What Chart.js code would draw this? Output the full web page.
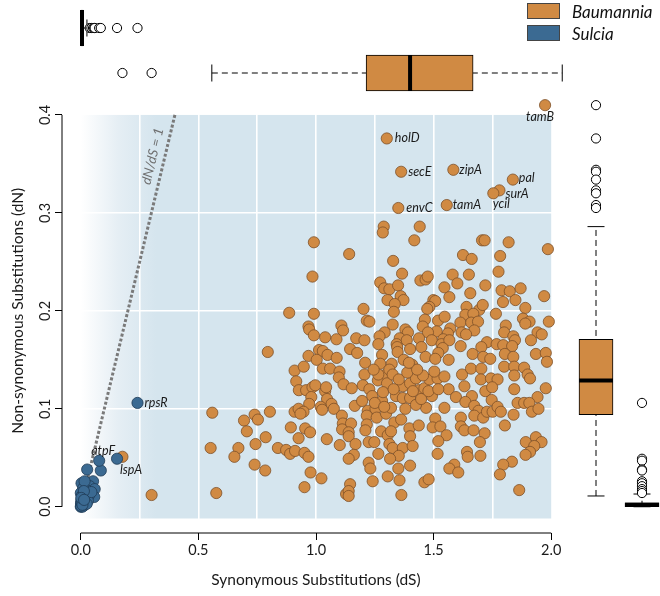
<!DOCTYPE html>
<html>
<head>
<meta charset="utf-8">
<script src="https://cdn.jsdelivr.net/npm/chart.js@4.4.1/dist/chart.umd.min.js"></script>
<style>
  html, body { margin: 0; padding: 0; background: #fff; overflow: hidden; }
  #wrap { position: relative; width: 660px; height: 596px; font-family: Lato, sans-serif; }
  #wrap canvas { position: absolute; left: 0; top: 0; }
  #legend { position: absolute; left: 527px; top: 0; }
  .item { display: flex; align-items: center; height: 22px; }
  .swatch { width: 31px; height: 14px; border: 1px solid #444; margin-right: 12px; }
  .item span { font-style: italic; font-size: 17px; color: #111; }
</style>
</head>
<body>
<div id="wrap">
  <canvas id="main" width="660" height="596"></canvas>
  <canvas id="topBox" width="660" height="596"></canvas>
  <canvas id="rightBox" width="660" height="596"></canvas>
  <div id="legend"></div>
</div>
<script>
// axis ranges, R style (4% padding round the data range)
var dsRange = [-0.08, 2.08];
var dnRange = [-0.0268, 0.4268];
var dsTicks = [0, 0.5, 1, 1.5, 2];
var dnTicks = [0, 0.1, 0.2, 0.3, 0.4];
var dsGrid = [0.25, 0.5, 0.75, 1, 1.25, 1.5, 1.75];
var dnGrid = [0.1, 0.2, 0.3];
var panelBottom = -0.012;
var neutralLine = [0, 0.4];
var neutralLabelAt = 0.355;

var groups = ['Baumannia', 'Sulcia'];

// [dS, dN] per gene
var baumanniaPoints = [
  [0.991,0.270],[1.141,0.258],[0.985,0.235],[0.886,0.198],[0.991,0.197],[0.968,0.184],[0.971,0.181],[0.991,0.175],
  [1.108,0.185],[1.115,0.180],[1.039,0.173],[1.087,0.171],[1.171,0.172],[0.795,0.158],[1.013,0.160],[1.029,0.159],
  [1.049,0.155],[1.088,0.152],[1.145,0.161],[0.968,0.154],[1.003,0.150],[1.175,0.157],
  [0.909,0.139],[0.948,0.143],[0.916,0.128],[0.927,0.119],[0.958,0.119],[0.985,0.122],[0.997,0.124],[0.980,0.112],
  [0.971,0.105],[0.909,0.097],[0.926,0.100],[0.947,0.097],[0.934,0.095],[1.029,0.141],[1.060,0.141],[1.100,0.138],
  [1.097,0.132],[1.117,0.125],[1.152,0.121],[1.039,0.118],[1.043,0.122],[1.047,0.110],[1.066,0.105],[1.020,0.102],
  [1.026,0.099],[1.076,0.100],[1.165,0.103],[1.110,0.093],[1.114,0.085],[1.149,0.085],[1.111,0.079],[1.139,0.076],
  [1.139,0.072],[1.168,0.064],[1.101,0.063],[1.046,0.069],[1.161,0.053],[1.139,0.049],[0.559,0.096],[0.694,0.088],
  [0.739,0.094],[0.753,0.089],[0.804,0.097],[0.706,0.077],[0.786,0.071],[0.743,0.064],[0.670,0.060],[0.653,0.051],
  [0.552,0.060],[0.893,0.081],[0.926,0.070],[0.954,0.080],[0.975,0.076],[0.838,0.060],[0.873,0.058],[0.890,0.054],
  [0.911,0.057],[0.951,0.055],[0.968,0.051],[0.739,0.043],[0.784,0.037],[0.977,0.035],[1.023,0.029],[0.951,0.020],
  [1.145,0.023],[1.128,0.013],[1.139,0.016],[1.139,0.011],[0.576,0.014],[0.177,0.051],[0.301,0.012],
  [1.288,0.286],[1.284,0.280],[1.441,0.286],[1.418,0.272],[1.706,0.272],[1.717,0.272],[1.819,0.270],[1.986,0.263],
  [1.328,0.251],[1.625,0.257],[1.662,0.253],[1.783,0.256],[1.366,0.238],[1.776,0.240],[1.581,0.237],[1.650,0.237],
  [1.601,0.228],[1.444,0.231],[1.466,0.232],[1.475,0.235],[1.273,0.229],[1.290,0.223],[1.312,0.222],[1.349,0.226],
  [1.546,0.224],[1.720,0.226],[1.789,0.221],[1.824,0.220],[1.870,0.223],[1.656,0.218],[1.970,0.215],[1.360,0.215],
  [1.372,0.211],[1.304,0.211],[1.335,0.207],[1.567,0.214],[1.499,0.211],[1.507,0.210],[1.795,0.209],[1.848,0.211],
  [1.202,0.202],[1.331,0.199],[1.482,0.204],[1.473,0.202],[1.640,0.204],[1.694,0.201],[1.709,0.206],[1.890,0.203],
  [1.635,0.196],[1.669,0.197],[1.765,0.197],[1.880,0.192],[1.908,0.189],[1.990,0.189],[1.216,0.190],[1.227,0.189],
  [1.463,0.191],[1.519,0.190],[1.547,0.194],[1.614,0.188],[1.660,0.188],[1.689,0.189],[1.326,0.186],[1.454,0.184],
  [1.571,0.182],[1.807,0.185],[1.890,0.187],[1.380,0.181],[1.292,0.178],[1.391,0.178],[1.513,0.179],[1.476,0.178],
  [1.619,0.178],[1.673,0.180],[1.800,0.178],[1.942,0.178],[1.960,0.176],[1.561,0.177],[1.638,0.176],[1.270,0.174],
  [1.356,0.172],[1.438,0.172],[1.541,0.171],[1.839,0.174],[1.846,0.170],[1.914,0.170],[1.206,0.170],[1.265,0.166],
  [1.343,0.166],[1.386,0.170],[1.492,0.170],[1.534,0.166],[1.567,0.170],[1.727,0.168],[1.768,0.166],[1.796,0.165],
  [1.834,0.164],[1.345,0.163],[1.400,0.161],[1.448,0.163],[1.539,0.162],[1.615,0.164],[1.703,0.163],[1.347,0.158],
  [1.466,0.153],[1.520,0.157],[1.564,0.150],[1.666,0.156],[1.711,0.153],[1.803,0.156],[1.839,0.153],[1.935,0.156],
  [1.977,0.157],[1.982,0.148],[1.281,0.155],[1.373,0.150],[1.409,0.145],[1.273,0.146],[1.322,0.146],[1.209,0.147],
  [1.507,0.151],[1.741,0.151],
  [1.206,0.135],[1.199,0.124],[1.227,0.120],[1.239,0.113],[1.263,0.129],[1.281,0.108],[1.298,0.135],[1.312,0.140],
  [1.302,0.126],[1.340,0.113],[1.369,0.123],[1.400,0.126],[1.425,0.131],[1.369,0.111],[1.400,0.111],[1.437,0.119],
  [1.461,0.121],[1.482,0.130],[1.517,0.131],[1.546,0.133],[1.493,0.113],[1.468,0.101],[1.425,0.104],[1.503,0.138],
  [1.621,0.135],[1.659,0.141],[1.703,0.141],[1.631,0.123],[1.564,0.120],[1.595,0.112],[1.663,0.113],[1.701,0.130],
  [1.744,0.131],[1.772,0.130],[1.720,0.118],[1.749,0.122],[1.747,0.109],[1.635,0.107],[1.673,0.103],[1.546,0.101],
  [1.691,0.098],[1.673,0.093],[1.711,0.091],[1.727,0.097],[1.751,0.097],[1.772,0.102],[1.786,0.097],[1.840,0.094],
  [1.800,0.143],[1.843,0.143],[1.885,0.142],[1.900,0.135],[1.910,0.131],[1.843,0.134],[1.843,0.120],[1.977,0.121],
  [1.942,0.112],[1.857,0.106],[1.885,0.106],[1.907,0.106],[1.918,0.097],[1.946,0.100],[1.616,0.091],[1.616,0.082],
  [1.631,0.078],[1.670,0.078],[1.507,0.090],[1.496,0.081],[1.529,0.082],[1.555,0.073],[1.520,0.067],[1.517,0.054],
  [1.717,0.075],[1.697,0.066],[1.699,0.052],[1.642,0.056],[1.645,0.051],[1.588,0.043],[1.567,0.039],[1.605,0.035],
  [1.803,0.083],[1.892,0.066],[1.935,0.071],[1.959,0.066],[1.928,0.062],[1.910,0.056],[1.891,0.053],[1.833,0.046],
  [1.796,0.043],[1.782,0.033],[1.864,0.017],[1.220,0.098],[1.216,0.093],[1.216,0.084],[1.210,0.078],[1.253,0.100],
  [1.258,0.091],[1.298,0.095],[1.319,0.101],[1.333,0.086],[1.362,0.089],[1.397,0.080],[1.400,0.072],[1.437,0.083],
  [1.277,0.077],[1.305,0.073],[1.319,0.077],[1.224,0.066],[1.248,0.066],[1.312,0.064],[1.326,0.060],[1.369,0.060],
  [1.411,0.062],[1.352,0.052],[1.265,0.054],[1.315,0.049],[1.224,0.045],[1.231,0.039],[1.350,0.039],[1.400,0.042],
  [1.305,0.031],[1.355,0.027],[1.241,0.026],[1.461,0.025],[1.479,0.028],[1.363,0.012],[1.196,0.108],[1.265,0.135],
  [1.326,0.135],[1.245,0.140],[1.285,0.117],[1.352,0.130],[1.388,0.137],[1.412,0.118],[1.447,0.110],[1.455,0.134],
  [1.380,0.100],[1.330,0.120],[1.250,0.106],[1.290,0.102],[1.478,0.118],[1.430,0.140],[1.520,0.120],[1.395,0.147]
];
var baumanniaGenes = [
  ['tamB',1.974,0.410],['holD',1.301,0.376],['secE',1.362,0.342],['zipA',1.584,0.344],['pal',1.837,0.334],
  ['surA',1.780,0.323],['ycil',1.754,0.320],['envC',1.350,0.305],['tamA',1.556,0.308]
];
var sulciaPoints = [
  [0.085,0.037],[0.027,0.038],[0.052,0.026],[0.038,0.021],[0.059,0.018],[0.057,0.010],[0.024,0.017],[0.003,0.024],
  [0.010,0.019],[0.035,0.012],[0.000,0.014],[0.010,0.009],[0.017,0.004],[0.000,0.000],[0.005,0.002],[0.008,0.006],
  [0.012,0.001],[0.002,0.005],[0.020,0.008],[0.004,0.011],[0.015,0.013],[0.030,0.006],[0.001,0.003],[0.006,0.000],
  [0.009,0.003],[0.025,0.003],[0.003,0.007],[0.045,0.015],[0.016,0.026],[0.013,0.016],[0.001,0.001],[0.004,0.004],
  [0.007,0.002],[0.002,0.009],[0.014,0.007]
];
var sulciaGenes = [['rpsR',0.241,0.106],['lspA',0.154,0.049],['atpF',0.078,0.047]];

// marginal boxplots: [low whisker, Q1, median, Q3, high whisker]
var baumanniaDsBox = [0.557, 1.213, 1.400, 1.668, 2.047];
var sulciaDsBox = [0.000, 0.002, 0.005, 0.010, 0.026];
var baumanniaDsOut = [0.177, 0.301];
var sulciaDsOut = [0.038, 0.045, 0.052, 0.057, 0.059, 0.078, 0.085, 0.154, 0.241];
var baumanniaDnBox = [0.011, 0.094, 0.129, 0.171, 0.286];
var sulciaDnBox = [0.000, 0.000, 0.002, 0.004, 0.013];
var baumanniaDnOut = [0.410, 0.376, 0.344, 0.342, 0.334, 0.323, 0.320, 0.308, 0.305];
var sulciaDnOut = [0.106, 0.049, 0.047, 0.038, 0.037, 0.026, 0.024, 0.021, 0.018, 0.016, 0.014];

var colors = { Baumannia: '#d08a43', Sulcia: '#3b6a92' };
var borders = { Baumannia: '#7d5128', Sulcia: '#1f3b55' };

// where each gene name sits next to its point: [dx, dy, align]
var labelOffsets = {
  tamB: [-5, 12, 'center'], holD: [8, 0, 'left'], secE: [7, 0, 'left'], zipA: [6, 0, 'left'],
  pal: [6, -2, 'left'], surA: [6, 4, 'left'], ycil: [8, 11, 'center'], envC: [8, 0, 'left'],
  tamA: [6, 0, 'left'], rpsR: [7, 0, 'left'], lspA: [3, 11, 'left'], atpF: [4, -10, 'center']
};

Chart.defaults.font.family = 'Lato';
Chart.defaults.color = '#1a1a1a';

function toXY (p) {
    return { x: p[0], y: p[1] };
}

var plotBackground = {
    id: 'plotBackground',
    beforeDraw: function (chart) {
        var ctx = chart.ctx, x = chart.scales.x, y = chart.scales.y;
        var left = x.getPixelForValue(dsTicks[0]);
        var right = x.getPixelForValue(dsTicks[dsTicks.length - 1]);
        var top = y.getPixelForValue(dnTicks[dnTicks.length - 1]);
        var bottom = y.getPixelForValue(panelBottom);
        var g = ctx.createLinearGradient(left, 0, x.getPixelForValue(0.32), 0);
        g.addColorStop(0, '#ffffff');
        g.addColorStop(0.5, '#e5eef4');
        g.addColorStop(1, '#d5e5ee');
        ctx.save();
        ctx.fillStyle = g;
        ctx.fillRect(left, top, right - left, bottom - top);
        ctx.restore();
    }
};

var textLabels = {
    id: 'textLabels',
    afterDatasetsDraw: function (chart) {
        var ctx = chart.ctx, x = chart.scales.x, y = chart.scales.y;
        ctx.save();
        ctx.font = 'italic 12.5px Lato';
        ctx.fillStyle = '#1a1a1a';
        ctx.textBaseline = 'middle';
        baumanniaGenes.concat(sulciaGenes).forEach(function (g) {
            var off = labelOffsets[g[0]];
            ctx.textAlign = off[2];
            ctx.fillText(g[0], x.getPixelForValue(g[1]) + off[0], y.getPixelForValue(g[2]) + off[1]);
        });
        // label along the dN = dS line
        var angle = Math.atan2(y.getPixelForValue(neutralLine[1]) - y.getPixelForValue(neutralLine[0]),
                               x.getPixelForValue(neutralLine[1]) - x.getPixelForValue(neutralLine[0]));
        ctx.translate(x.getPixelForValue(neutralLabelAt), y.getPixelForValue(neutralLabelAt));
        ctx.rotate(angle);
        ctx.textAlign = 'center';
        ctx.fillStyle = '#6e6e6e';
        ctx.font = 'italic 13.5px Lato';
        ctx.fillText('dN/dS = 1', 0, -12);
        ctx.restore();
    }
};

var mainChart = new Chart(document.getElementById('main'), {
    type: 'scatter',
    data: {
        datasets: [
            {
                type: 'line', label: 'neutral',
                data: neutralLine.map(function (v) { return { x: v, y: v }; }),
                borderColor: '#7a7a7a', borderWidth: 3, borderDash: [3, 2], pointRadius: 0, order: 5
            },
            {
                type: 'line', label: 'x axis',
                data: [{ x: dsTicks[0], y: dnRange[0] }, { x: dsTicks[dsTicks.length - 1], y: dnRange[0] }],
                borderColor: '#000', borderWidth: 1, pointRadius: 0, clip: false, order: 5
            },
            {
                type: 'line', label: 'y axis',
                data: [{ x: dsRange[0], y: dnTicks[0] }, { x: dsRange[0], y: dnTicks[dnTicks.length - 1] }],
                borderColor: '#000', borderWidth: 1, pointRadius: 0, clip: false, order: 5
            },
            {
                label: 'Baumannia',
                data: baumanniaPoints.concat(baumanniaGenes.map(function (g) { return [g[1], g[2]]; })).map(toXY),
                backgroundColor: colors.Baumannia, borderColor: borders.Baumannia,
                pointRadius: 5.6, borderWidth: 0.8, order: 2
            },
            {
                label: 'Sulcia',
                data: sulciaPoints.concat(sulciaGenes.map(function (g) { return [g[1], g[2]]; })).map(toXY),
                backgroundColor: colors.Sulcia, borderColor: borders.Sulcia,
                pointRadius: 5.6, borderWidth: 0.8, order: 1
            }
        ]
    },
    options: {
        responsive: false,
        animation: false,
        events: [],
        layout: { autoPadding: false, padding: { top: 88.7, right: 90, bottom: 0, left: 0 } },
        scales: {
            x: {
                type: 'linear', position: 'bottom', min: dsRange[0], max: dsRange[1],
                afterBuildTicks: function (s) { s.ticks = dsTicks.map(function (v) { return { value: v }; }); },
                afterFit: function (s) { s.height = 63; },
                grid: { drawOnChartArea: false, drawTicks: true, tickLength: 7, color: '#000' },
                border: { display: false },
                ticks: { padding: 2, font: { size: 14.5 }, color: '#1a1a1a',
                         callback: function (v) { return v.toFixed(1); } },
                title: { display: true, text: 'Synonymous Substitutions (dS)', font: { size: 15.5 },
                         color: '#1a1a1a', padding: { top: 0, bottom: 7 } }
            },
            y: {
                type: 'linear', position: 'left', min: dnRange[0], max: dnRange[1],
                afterBuildTicks: function (s) { s.ticks = dnTicks.map(function (v) { return { value: v }; }); },
                afterFit: function (s) { s.width = 62; },
                grid: { drawOnChartArea: false, drawTicks: true, tickLength: 7, color: '#000' },
                border: { display: false },
                ticks: { padding: 0, minRotation: 90, maxRotation: 90, crossAlign: 'center',
                         font: { size: 14.5 }, color: '#1a1a1a',
                         callback: function (v) { return v.toFixed(1); } },
                title: { display: true, text: 'Non-synonymous Substitutions (dN)', font: { size: 15.5 },
                         color: '#1a1a1a', padding: { top: 9, bottom: 0 } }
            },
            x2: {
                type: 'linear', position: 'top', min: dsRange[0], max: dsRange[1],
                afterBuildTicks: function (s) { s.ticks = dsGrid.map(function (v) { return { value: v }; }); },
                afterFit: function (s) { s.height = 0; },
                grid: { color: '#ffffff', lineWidth: 1.6, drawTicks: false },
                border: { display: false },
                ticks: { display: false }
            },
            y2: {
                type: 'linear', position: 'right', min: dnRange[0], max: dnRange[1],
                afterBuildTicks: function (s) { s.ticks = dnGrid.map(function (v) { return { value: v }; }); },
                afterFit: function (s) { s.width = 0; },
                grid: { color: '#ffffff', lineWidth: 1.6, drawTicks: false },
                border: { display: false },
                ticks: { display: false }
            }
        },
        plugins: { legend: { display: false }, tooltip: { enabled: false } }
    },
    plugins: [plotBackground, textLabels]
});

// boxplot pieces for one margin; valueAxis is the numeric axis
function boxplotDatasets (valueAxis, cats, stats, outliers, thickness) {
    var catAxis = valueAxis === 'x' ? 'y' : 'x';
    var rot = valueAxis === 'x' ? 90 : 0;
    function pt (cat, v) { var o = {}; o[catAxis] = cat; o[valueAxis] = v; return o; }
    var sets = [];
    cats.forEach(function (c, i) {
        sets.push({ type: 'line', data: [pt(c, stats[i][0]), pt(c, stats[i][4])],
                    borderColor: '#000', borderWidth: 1, borderDash: [6, 4], pointRadius: 0, clip: false, order: 4 });
    });
    sets.push({ type: 'bar', data: cats.map(function (c, i) { return pt(c, [stats[i][1], stats[i][3]]); }),
                backgroundColor: cats.map(function (c) { return colors[c]; }),
                borderColor: '#000', borderWidth: 1, borderSkipped: false, barThickness: thickness,
                clip: false, order: 3 });
    var caps = [];
    cats.forEach(function (c, i) { caps.push(pt(c, stats[i][0]), pt(c, stats[i][4])); });
    sets.push({ type: 'scatter', data: caps, pointStyle: 'line', pointRotation: rot, pointRadius: 8.5,
                pointBorderWidth: 1, pointBorderColor: '#000', clip: false, order: 2 });
    sets.push({ type: 'scatter', data: cats.map(function (c, i) { return pt(c, stats[i][2]); }),
                pointStyle: 'line', pointRotation: rot, pointRadius: thickness / 2,
                pointBorderWidth: 4, pointBorderColor: '#000', clip: false, order: 1 });
    var outs = [];
    cats.forEach(function (c, i) { outliers[i].forEach(function (v) { outs.push(pt(c, v)); }); });
    sets.push({ type: 'scatter', data: outs, pointStyle: 'circle', pointRadius: 4.6, pointBorderWidth: 1,
                pointBorderColor: '#000', pointBackgroundColor: '#fff', clip: false, order: 0 });
    return sets;
}

var marginOptions = {
    responsive: false,
    animation: false,
    events: [],
    plugins: { legend: { display: false }, tooltip: { enabled: false } }
};

var topCats = ['Sulcia', 'Baumannia'];
new Chart(document.getElementById('topBox'), {
    type: 'bar',
    data: {
        labels: topCats,
        datasets: boxplotDatasets('x', topCats, [sulciaDsBox, baumanniaDsBox], [sulciaDsOut, baumanniaDsOut], 36)
    },
    options: Object.assign({}, marginOptions, {
        indexAxis: 'y',
        layout: { autoPadding: false, padding: { left: 62, right: 90, top: 28, bottom: 523 } },
        scales: {
            x: { type: 'linear', display: false, min: dsRange[0], max: dsRange[1] },
            y: { type: 'category', display: false, offset: false }
        }
    })
});

var rightCats = ['Baumannia', 'Sulcia'];
new Chart(document.getElementById('rightBox'), {
    type: 'bar',
    data: {
        labels: rightCats,
        datasets: boxplotDatasets('y', rightCats, [baumanniaDnBox, sulciaDnBox], [baumanniaDnOut, sulciaDnOut], 34)
    },
    options: Object.assign({}, marginOptions, {
        indexAxis: 'x',
        layout: { autoPadding: false, padding: { left: 596, right: 18, top: 88.7, bottom: 63 } },
        scales: {
            x: { type: 'category', display: false, offset: false },
            y: { type: 'linear', display: false, min: dnRange[0], max: dnRange[1] }
        }
    })
});

// legend, built from the two series of the scatter
var legendBox = document.getElementById('legend');
mainChart.data.datasets.filter(function (d) { return groups.indexOf(d.label) >= 0; }).forEach(function (d) {
    var item = document.createElement('div');
    item.className = 'item';
    var sw = document.createElement('div');
    sw.className = 'swatch';
    sw.style.background = d.backgroundColor;
    var tx = document.createElement('span');
    tx.textContent = d.label;
    item.appendChild(sw);
    item.appendChild(tx);
    legendBox.appendChild(item);
});
</script>
</body>
</html>
